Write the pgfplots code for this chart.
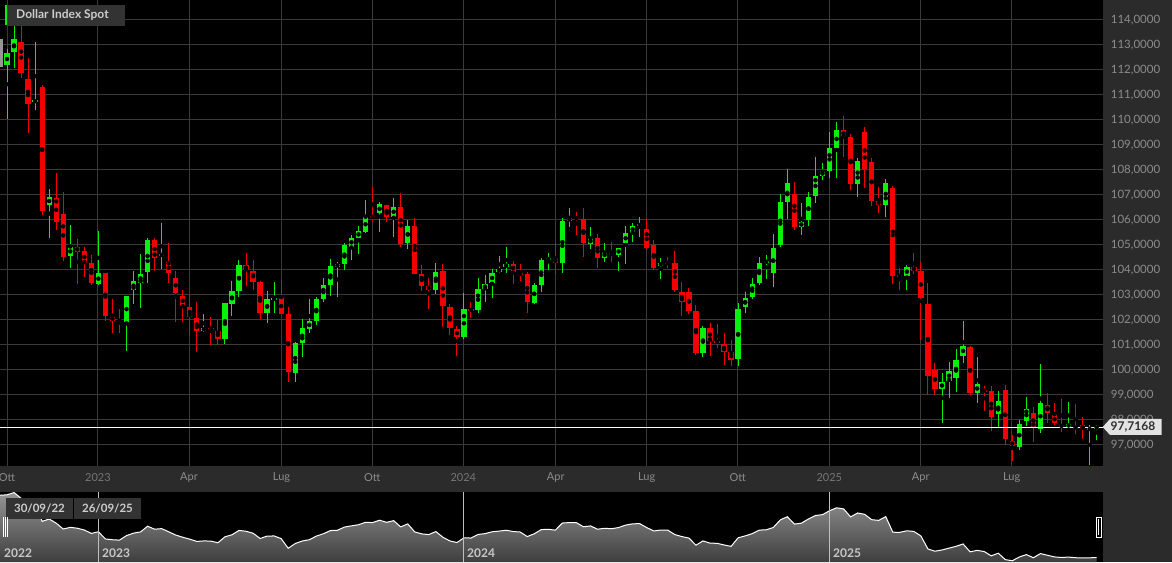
\documentclass[border=0pt]{standalone}
\usepackage{fontspec}
\setmainfont{Lato}
\usepackage{pgfplots}
\usepackage{pgfplotstable}
\pgfplotsset{compat=1.18}
\definecolor{panel}{RGB}{43,43,43}
\definecolor{gridc}{RGB}{58,58,58}
\definecolor{lab}{RGB}{140,140,140}
\definecolor{yearlab}{RGB}{118,118,118}
\definecolor{upc}{RGB}{10,240,10}
\definecolor{dnc}{RGB}{245,0,0}
\definecolor{legbg}{RGB}{51,51,51}
\definecolor{legtxt}{RGB}{205,205,205}
\definecolor{tagc}{RGB}{226,226,226}
\definecolor{tagtxt}{RGB}{45,45,45}
\definecolor{navtop}{RGB}{150,150,150}
\definecolor{navbot}{RGB}{62,62,62}
\definecolor{grayc}{RGB}{150,150,150}

\pgfplotstableread{
i o h l c
-1 113.23 113.23 111.53 112.13
}\grayc

\pgfplotstableread{
i o h l c
0 112.19 112.83 110.03 112.69
1 112.73 113.80 112.10 113.24
4 110.72 113.10 110.40 110.78
6 106.60 107.24 105.27 106.92
9 104.56 105.80 104.08 104.93
13 103.44 105.57 103.40 103.87
17 101.91 102.96 100.77 102.96
18 103.20 103.96 102.63 103.55
19 103.49 104.63 102.49 103.84
20 103.93 105.27 103.47 105.20
22 104.58 105.87 104.03 104.62
28 101.57 102.23 101.51 101.69
31 101.23 102.67 101.03 102.67
32 102.63 103.57 102.17 103.16
33 103.17 104.40 102.93 104.19
37 102.29 103.17 101.89 102.83
38 102.80 103.51 102.29 102.88
41 99.89 101.13 99.53 101.07
42 101.07 102.03 100.51 101.67
43 101.64 102.83 101.49 101.97
44 101.97 102.90 101.80 102.84
45 102.84 103.67 102.73 103.40
46 103.40 104.44 102.97 104.16
47 104.13 104.33 102.91 104.23
48 104.23 105.09 104.00 105.00
49 104.93 105.40 104.40 105.29
50 105.29 105.76 104.63 105.56
51 105.53 106.80 105.47 106.13
53 106.27 106.73 105.53 106.63
55 106.13 106.87 105.31 106.53
57 105.09 106.00 104.84 105.76
61 103.20 104.27 103.04 103.93
65 101.31 103.07 101.24 102.43
67 102.40 103.67 102.27 103.23
68 103.24 103.80 102.73 103.43
69 103.49 104.03 102.87 103.87
70 103.93 104.56 103.89 104.04
71 104.11 104.93 103.87 104.24
75 102.69 103.47 102.63 103.40
76 103.40 104.47 103.13 104.40
77 104.42 104.69 104.00 104.46
79 104.27 106.07 103.87 105.96
80 105.97 106.47 105.71 106.07
83 105.04 105.71 104.83 105.27
85 104.49 105.07 104.33 104.71
87 104.60 104.89 103.96 104.89
88 105.07 105.77 104.24 105.47
89 105.49 105.87 105.13 105.77
90 105.78 106.11 105.33 105.82
93 104.17 104.47 103.63 104.29
99 100.67 101.76 100.51 101.69
104 100.43 102.67 100.16 102.44
105 102.53 103.13 102.27 102.89
106 102.91 103.67 102.85 103.43
107 103.49 104.53 103.40 104.27
108 104.31 104.60 103.63 104.35
109 103.87 105.43 103.31 104.89
110 105.00 107.03 104.91 106.71
111 106.71 108.03 106.03 107.47
113 105.71 106.69 105.40 105.93
114 106.00 107.13 105.76 106.93
115 106.97 108.51 106.67 107.76
116 107.76 108.27 107.60 107.96
117 107.96 109.51 107.69 108.89
118 108.89 109.91 107.69 109.60
121 107.43 108.47 106.93 108.36
125 106.60 107.63 106.11 107.49
128 103.76 104.20 103.20 104.11
133 99.23 99.89 97.89 99.53
134 99.57 100.33 98.87 99.97
135 99.69 100.83 99.13 100.40
136 100.57 101.96 100.27 100.96
138 99.09 100.51 98.67 99.43
141 98.23 99.16 97.69 98.76
144 96.93 98.00 96.80 97.85
145 97.96 98.91 97.76 98.43
147 97.63 100.24 97.47 98.67
151 97.73 98.71 97.67 97.83
154 97.62 97.80 96.20 97.66
155 97.67 97.80 97.20 97.72
}\up

\pgfplotstableread{
i o h l c
2 113.12 113.80 111.67 111.88
3 111.63 112.50 109.50 110.63
5 111.31 111.40 106.20 106.36
7 106.89 107.90 105.60 105.93
8 106.24 107.13 104.36 104.53
10 104.92 105.23 103.43 104.73
11 104.76 104.92 103.72 104.29
12 104.29 104.60 103.40 103.49
14 103.87 103.90 101.97 102.16
15 102.13 102.85 101.49 101.97
16 101.93 102.45 101.49 101.88
21 105.19 105.27 103.97 104.49
23 104.31 105.07 103.47 103.87
24 103.69 103.96 101.91 103.09
25 102.97 103.20 101.90 102.57
26 102.53 103.00 101.40 102.11
27 102.07 102.73 100.73 101.57
29 101.69 102.13 100.99 101.65
30 101.56 102.00 100.99 101.25
34 104.19 104.67 103.36 104.00
35 103.97 104.40 103.20 103.53
36 103.51 103.55 102.00 102.27
39 102.87 103.60 102.24 102.24
40 102.23 102.53 99.53 99.93
52 106.16 107.31 105.93 106.07
54 106.60 106.62 105.93 106.13
56 106.53 107.07 104.91 105.04
58 105.76 106.08 103.84 103.84
59 103.83 104.20 103.16 103.37
60 103.37 103.69 102.43 103.20
62 103.96 104.23 101.73 102.57
63 102.51 102.63 101.40 101.69
64 101.64 101.76 100.57 101.31
66 102.42 102.73 102.07 102.38
72 104.24 104.37 103.43 103.93
73 103.86 104.24 103.57 103.82
74 103.83 103.93 102.29 102.73
78 104.47 105.07 103.84 104.27
81 106.09 106.33 105.40 106.05
82 106.04 106.47 104.51 105.07
84 105.27 105.43 104.07 104.49
86 104.69 105.10 104.33 104.60
91 105.63 106.03 104.83 104.87
92 105.00 105.20 104.00 104.07
94 104.28 104.51 104.07 104.26
95 104.27 104.76 103.11 103.20
96 103.11 103.51 102.16 102.73
97 103.11 103.27 102.23 102.37
98 102.37 102.60 100.60 100.67
100 101.67 101.89 100.56 101.16
101 101.15 101.84 100.87 101.12
102 101.04 101.47 100.20 100.73
103 100.71 101.20 100.16 100.40
112 107.04 107.53 105.60 105.71
119 109.60 110.16 108.53 109.33
120 109.31 109.43 107.20 107.43
122 109.53 109.73 107.27 108.04
123 108.31 108.47 106.56 106.76
124 106.77 107.33 106.27 106.60
126 107.29 107.36 103.44 103.77
127 103.78 104.07 103.20 103.74
129 104.13 104.67 103.84 103.96
130 103.97 104.33 101.20 102.87
131 102.63 103.49 99.00 99.76
132 100.00 100.27 99.00 99.23
137 100.91 100.95 99.00 99.09
139 99.18 99.37 98.37 99.16
140 99.16 99.37 97.57 98.13
142 99.20 99.40 97.00 97.23
143 97.16 97.40 96.37 96.96
146 98.29 98.51 97.13 97.67
148 98.60 99.07 97.89 98.27
149 98.20 98.67 97.80 97.87
150 97.78 98.83 97.53 97.74
152 97.70 98.63 97.43 97.68
153 97.80 98.13 97.23 97.63
}\down

\pgfplotstableread{
i c
-1 112.60
0 112.69
1 113.24
2 111.88
3 110.63
4 110.78
5 106.36
6 106.92
7 105.93
8 104.53
9 104.93
10 104.73
11 104.29
12 103.49
13 103.87
14 102.16
15 101.97
16 101.88
17 102.96
18 103.55
19 103.84
20 105.20
21 104.49
22 104.62
23 103.87
24 103.09
25 102.57
26 102.11
27 101.57
28 101.69
29 101.65
30 101.25
31 102.67
32 103.16
33 104.19
34 104.00
35 103.53
36 102.27
37 102.83
38 102.88
39 102.24
40 99.93
41 101.07
42 101.67
43 101.97
44 102.84
45 103.40
46 104.16
47 104.23
48 105.00
49 105.29
50 105.56
51 106.13
52 106.07
53 106.63
54 106.13
55 106.53
56 105.04
57 105.76
58 103.84
59 103.37
60 103.20
61 103.93
62 102.57
63 101.69
64 101.31
65 102.43
66 102.38
67 103.23
68 103.43
69 103.87
70 104.04
71 104.24
72 103.93
73 103.82
74 102.73
75 103.40
76 104.40
77 104.46
78 104.27
79 105.96
80 106.07
81 106.05
82 105.07
83 105.27
84 104.49
85 104.71
86 104.60
87 104.89
88 105.47
89 105.77
90 105.82
91 104.87
92 104.07
93 104.29
94 104.26
95 103.20
96 102.73
97 102.37
98 100.67
99 101.69
100 101.16
101 101.12
102 100.73
103 100.40
104 102.44
105 102.89
106 103.43
107 104.27
108 104.35
109 104.89
110 106.71
111 107.47
112 105.71
113 105.93
114 106.93
115 107.76
116 107.96
117 108.89
118 109.60
119 109.33
120 107.43
121 108.36
122 108.04
123 106.76
124 106.60
125 107.49
126 103.77
127 103.74
128 104.11
129 103.96
130 102.87
131 99.76
132 99.23
133 99.53
134 99.97
135 100.40
136 100.96
137 99.09
138 99.43
139 99.16
140 98.13
141 98.76
142 97.23
143 96.96
144 97.85
145 98.43
146 97.67
147 98.67
148 98.27
149 97.87
150 97.74
151 97.83
152 97.68
153 97.63
154 97.66
155 97.72
}\nav

\begin{document}
\begin{tikzpicture}[x=1pt,y=1pt]
\useasboundingbox (0pt,0pt) rectangle (1172pt,562pt);
\clip (0pt,0pt) rectangle (1172pt,562pt);
\fill[panel] (0pt,0pt) rectangle (1172pt,562pt);
\fill[black] (0pt,96pt) rectangle (1103pt,562pt);
\fill[black] (0pt,0pt) rectangle (1103pt,70pt);

\begin{axis}[
  at={(0pt,96pt)}, anchor=south west,
  scale only axis, width=1103pt, height=466pt,
  xmin=-0.996, xmax=155.9, ymin=96.16, ymax=114.8,
  axis line style={draw=none},
  major tick length=0pt,
  tick style={draw=none},
  xtick={0,12.94,25.89,39.05,51.96,64.91,78.05,91.0,103.94,116.97,129.97,142.92},
  xticklabels={Ott,{\color{yearlab}2023},Apr,Lug,Ott,{\color{yearlab}2024},Apr,Lug,Ott,{\color{yearlab}2025},Apr,Lug},
  ytick={97,98,...,114},
  grid=major,
  grid style={draw=gridc, line width=1pt},
  yticklabel pos=right,
  scaled y ticks=false,
  yticklabel style={anchor=west, inner sep=0pt, xshift=7.7pt, text=lab,
    font=\fontsize{11.5}{13}\selectfont,
    /pgf/number format/fixed, /pgf/number format/fixed zerofill,
    /pgf/number format/precision=4, /pgf/number format/use comma,
    /pgf/number format/assume math mode=true},
  xticklabel style={anchor=center, inner sep=0pt, yshift=-12pt, text=lab,
    font=\fontsize{11}{13}\selectfont},
]
% gray partial candle
\addplot[only marks, mark=none, forget plot, error bars/.cd, y dir=both, y explicit, error mark=none,
  error bar style={line width=1pt, grayc}]
  table[x=i, y expr={(\thisrow{h}+\thisrow{l})/2}, y error expr={(\thisrow{h}-\thisrow{l})/2}] {\grayc};
\addplot[only marks, mark=none, forget plot, error bars/.cd, y dir=both, y explicit, error mark=none,
  error bar style={line width=5.3pt, grayc}]
  table[x=i, y expr={(\thisrow{o}+\thisrow{c})/2}, y error expr={max(abs(\thisrow{c}-\thisrow{o})/2,0.025)}] {\grayc};
% up wicks and bodies
\addplot[only marks, mark=none, forget plot, error bars/.cd, y dir=both, y explicit, error mark=none,
  error bar style={line width=1pt, upc}]
  table[x=i, y expr={(\thisrow{h}+\thisrow{l})/2}, y error expr={(\thisrow{h}-\thisrow{l})/2}] {\up};
\addplot[only marks, mark=none, forget plot, error bars/.cd, y dir=both, y explicit, error mark=none,
  error bar style={line width=5.3pt, upc}]
  table[x=i, y expr={(\thisrow{o}+\thisrow{c})/2}, y error expr={max(abs(\thisrow{c}-\thisrow{o})/2,0.025)}] {\up};
% down wicks and bodies
\addplot[only marks, mark=none, forget plot, error bars/.cd, y dir=both, y explicit, error mark=none,
  error bar style={line width=1pt, dnc}]
  table[x=i, y expr={(\thisrow{h}+\thisrow{l})/2}, y error expr={(\thisrow{h}-\thisrow{l})/2}] {\down};
\addplot[only marks, mark=none, forget plot, error bars/.cd, y dir=both, y explicit, error mark=none,
  error bar style={line width=5.3pt, dnc}]
  table[x=i, y expr={(\thisrow{o}+\thisrow{c})/2}, y error expr={max(abs(\thisrow{c}-\thisrow{o})/2,0.025)}] {\down};
% last price line
\addplot[white, line width=1pt, forget plot] coordinates {(-0.996,97.7168) (155.9,97.7168)};
\end{axis}

% navigator
\begin{axis}[
  at={(0pt,0pt)}, anchor=south west,
  scale only axis, width=1103pt, height=70pt,
  xmin=-0.996, xmax=155.9, ymin=0, ymax=16.71,
  hide axis,
]
\addplot[draw=none, top color=navtop, bottom color=navbot, forget plot]
  table[x=i, y expr={\thisrow{c}-96.66}] {\nav} \closedcycle;
\addplot[white, line width=1pt, forget plot]
  table[x=i, y expr={\thisrow{c}-96.66}] {\nav};
\end{axis}

% navigator decorations
\foreach \xx in {98,463.3,829.3} {\draw[color={rgb,255:red,190;green,190;blue,190}, line width=0.8pt] (\xx pt,0pt) -- (\xx pt,70pt);}
\node[anchor=base west, inner sep=0pt, text={rgb,255:red,200;green,200;blue,200}, font=\bfseries\fontsize{12}{14}\selectfont] at (4pt,5pt) {2022};
\node[anchor=base west, inner sep=0pt, text={rgb,255:red,200;green,200;blue,200}, font=\bfseries\fontsize{12}{14}\selectfont] at (102pt,5pt) {2023};
\node[anchor=base west, inner sep=0pt, text={rgb,255:red,200;green,200;blue,200}, font=\bfseries\fontsize{12}{14}\selectfont] at (467pt,5pt) {2024};
\node[anchor=base west, inner sep=0pt, text={rgb,255:red,200;green,200;blue,200}, font=\bfseries\fontsize{12}{14}\selectfont] at (833pt,5pt) {2025};
\fill[legbg] (6pt,43pt) rectangle (72.5pt,64pt);
\fill[legbg] (74pt,43pt) rectangle (140.5pt,64pt);
\node[inner sep=0pt, text=legtxt, font=\bfseries\fontsize{11.5}{14}\selectfont] at (39.5pt,53.5pt) {30/09/22};
\node[inner sep=0pt, text=legtxt, font=\bfseries\fontsize{11.5}{14}\selectfont] at (107.5pt,53.5pt) {26/09/25};
\foreach \xx in {3.5,5.5,7.5} {\draw[white, line width=0.7pt] (\xx pt,25pt) -- (\xx pt,45pt);}
\draw[white, line width=0.8pt] (1096.5pt,25pt) rectangle (1101pt,45pt);
\draw[white, line width=0.6pt] (1098.7pt,27pt) -- (1098.7pt,43pt);

% legend box
\fill[legbg] (8pt,536pt) rectangle (125pt,557pt);
\fill[upc] (5pt,537pt) rectangle (7pt,557pt);
\node[anchor=west, inner sep=0pt, text=legtxt, font=\bfseries\fontsize{12}{14}\selectfont] at (16pt,546.5pt) {Dollar Index Spot};

% last price tag
\fill[tagc] (1102.7pt,135pt) -- (1110pt,143pt) -- (1161.5pt,143pt) -- (1161.5pt,127pt) -- (1110pt,127pt) -- cycle;
\node[inner sep=0pt, text=tagtxt, font=\bfseries\fontsize{12}{14}\selectfont] at (1133pt,135pt) {97,7168};
\end{tikzpicture}
\end{document}
